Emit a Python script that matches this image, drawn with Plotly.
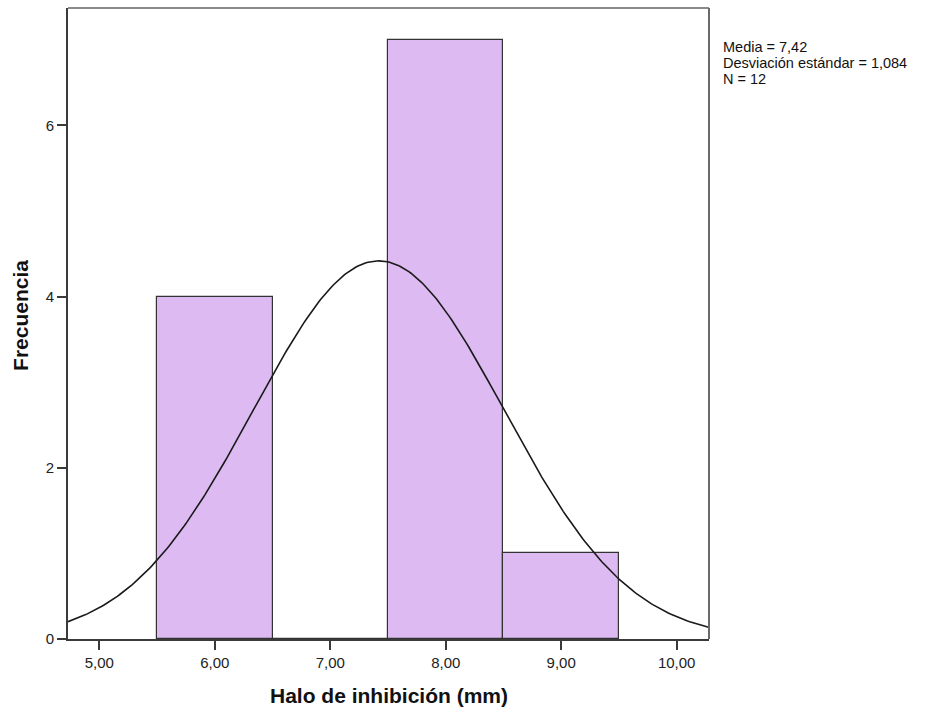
import numpy as np
import plotly.graph_objects as go

# Histogram of inhibition halo sizes (bin width 1 mm)
bin_centers = [6.0, 7.0, 8.0, 9.0]
frequencies = [4, 0, 7, 1]
bin_width = 1.0

# Summary statistics shown in the side legend
media = 7.42
desviacion = 1.084
n_total = 12

x_ticks = [5, 6, 7, 8, 9, 10]
y_ticks = [0, 2, 4, 6]
x_range = [4.729, 10.28]
y_range = [0, 7.37]

# Normal curve scaled to counts
xc = np.linspace(x_range[0], x_range[1], 300)
yc = n_total * bin_width / (desviacion * np.sqrt(2 * np.pi)) * np.exp(-0.5 * ((xc - media) / desviacion) ** 2)

FONT = "Liberation Sans, Arial, sans-serif"

fig = go.Figure()
fig.add_trace(go.Bar(
    x=bin_centers, y=frequencies, width=bin_width,
    marker=dict(color="#DEBAF2", line=dict(color="#333333", width=1.2)),
    hoverinfo="x+y",
))
fig.add_trace(go.Scatter(
    x=xc, y=yc, mode="lines",
    line=dict(color="#1a1a1a", width=1.6),
    hoverinfo="skip",
))

axis_common = dict(
    showgrid=False, zeroline=False, showline=True, linecolor="#3a3a3a", linewidth=2,
    ticks="outside", ticklen=9, tickwidth=2, tickcolor="#3a3a3a",
    tickfont=dict(family=FONT, size=15, color="#222222"),
)
fig.update_xaxes(range=x_range, tickvals=x_ticks, tickformat=".2f", **axis_common)
fig.update_yaxes(range=y_range, tickvals=y_ticks, tickformat="d", **axis_common)

# Lighter top and right borders of the frame
fig.add_shape(type="line", xref="paper", yref="paper", x0=0, x1=1, y0=1, y1=1,
              line=dict(color="#8a8a8a", width=2))
fig.add_shape(type="line", xref="paper", yref="paper", x0=1, x1=1, y0=0, y1=1,
              line=dict(color="#6a6a6a", width=2))

annotations = [
    dict(text="<b>Halo de inhibición (mm)</b>", xref="paper", yref="paper",
         x=0.5, y=-0.0895, xanchor="center", yanchor="middle", showarrow=False,
         font=dict(family=FONT, size=21, color="#111111")),
    dict(text="<b>Frecuencia</b>", xref="paper", yref="paper", textangle=-90,
         x=-0.0733, y=0.512, xanchor="center", yanchor="middle", showarrow=False,
         font=dict(family=FONT, size=21, color="#111111")),
]
legend_lines = [
    f"Media = {media:.2f}".replace(".", ","),
    f"Desviación estándar = {desviacion:.3f}".replace(".", ","),
    f"N = {n_total}",
]
legend_y_px = [47, 63, 79]
for txt, ypx in zip(legend_lines, legend_y_px):
    annotations.append(dict(
        text=txt, xref="paper", yref="paper",
        x=(720.5 - 68) / 641, y=1 - (ypx - 8) / 631,
        xanchor="left", yanchor="middle", showarrow=False,
        font=dict(family=FONT, size=14.5, color="#111111"),
    ))

fig.update_layout(
    width=932, height=713,
    margin=dict(l=68, r=223, t=8, b=74),
    paper_bgcolor="white", plot_bgcolor="white",
    showlegend=False, bargap=0,
    separators=",.",
    annotations=annotations,
)

fig.write_html("out.html")
